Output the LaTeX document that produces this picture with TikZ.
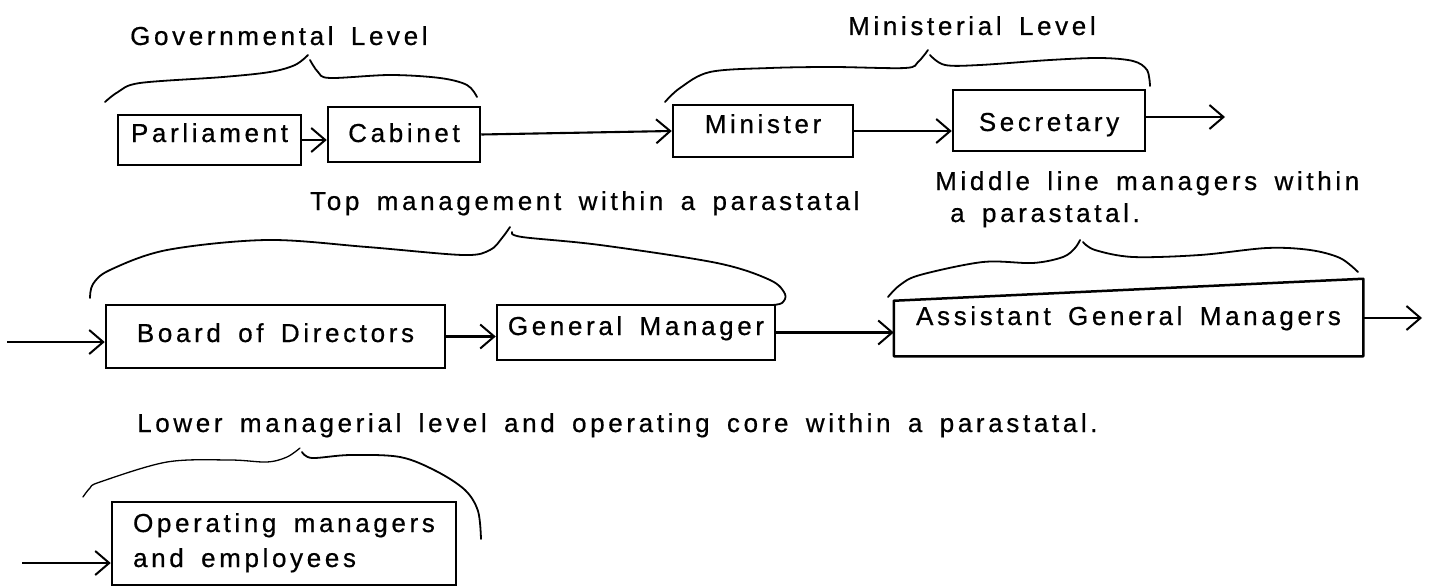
\documentclass[tikz,border=0pt]{standalone}
\usepackage{fontspec}
\setmainfont{Liberation Sans}[LetterSpace=14,WordSpace=1.6,FakeBold=0.6]
\usetikzlibrary{arrows.meta}
\newcommand\labfont{\fontsize{26}{32}\selectfont}
\begin{document}
\begin{tikzpicture}[x=1pt,y=-1pt,
  box/.style={draw, line width=2.5pt, inner sep=0pt, font=\labfont},
  lbl/.style={inner sep=0pt, anchor=base west, font=\labfont},
  conn/.style={line width=2.1pt, -{Straight Barb[length=14pt,width=24pt,line width=2pt]}},
  brace/.style={line width=1.8pt, line cap=round, line join=round}]
\useasboundingbox[fill=white] (0,0) rectangle (1433,586);

% labels
\node[lbl] (govl) at (130,45) {Governmental Level};
\node[lbl] (minl) at (848,35) {Ministerial Level};
\node[lbl] (topl) at (310,210) {Top management within a parastatal};
\node[lbl, align=left] (midl) at (935,222) {Middle line managers within\\\hspace*{15pt}a parastatal.};
\node[lbl] (lowl) at (137,432) {Lower managerial level and operating core within a parastatal.};

% boxes
\node[box, minimum width=183pt, text height=27pt, text depth=23pt] (parl) at (209.5,140) {Parliament};
\node[box, minimum width=152pt, text height=35pt, text depth=20pt] (cab) at (404,134.5) {Cabinet};
\node[box, minimum width=180pt, text height=28pt, text depth=24pt] (mini) at (763,131) {Minister};
\node[box, minimum width=192pt, text height=41pt, text depth=20pt] (sec) at (1049,120.5) {Secretary};
\node[box, minimum width=339pt, text height=37pt, text depth=26pt] (board) at (275.5,336.5) {Board of Directors};
\node[box, minimum width=278pt, text height=30pt, text depth=25pt] (gm) at (636,332.5) {General Manager};
\node[box, draw=none, minimum width=467pt, text height=34pt, text depth=30pt] (agm) at (1128.5,323) {Assistant General Managers};
\draw[line width=2.5pt, line join=round] (agm.south west) -- ([yshift=-11pt]agm.north west) -- ([yshift=11pt]agm.north east) -- (agm.south east) -- cycle;
\node[box, minimum width=344pt, align=left,
      font=\fontsize{26}{35}\selectfont] (oper) at (284,543.5)
  {\rule{0pt}{30pt}Operating managers\\and employees\rule[-18pt]{0pt}{18pt}};

% free ends
\coordinate (secout) at (1225,117);
\coordinate (bin) at (7,342);
\coordinate (agmout) at (1422,318);
\coordinate (oin) at (22,563);

% connectors
\draw[conn] (parl.east) -- (parl.east -| cab.west);
\draw[conn] (cab.east) -- (mini.west);
\draw[conn] (mini.east) -- (mini.east -| sec.west);
\draw[conn] (sec.east |- secout) -- (secout);
\draw[conn] (bin) -- (bin -| board.west);
\draw[conn] (board.east) -- (board.east -| gm.west);
\draw[conn] (gm.east) -- (gm.east -| agm.west);
\draw[conn] (agm.east |- agmout) -- (agmout);
\draw[conn] (oin) -- (oin -| oper.west);

% braces
\draw[brace] plot[smooth, tension=0.55] coordinates {(105,102) (118,92) (140,83) (223,77) (270,72) (295,65) (308,55)};
\draw[brace] plot[smooth, tension=0.55] coordinates {(310,60) (318,72) (330,78) (390,75) (440,78) (467,85) (477,97)};

\draw[brace] plot[smooth, tension=0.55] coordinates {(665,102) (680,88) (710,72) (770,68) (833,67) (905,68) (918,62) (928,50)};
\draw[brace] plot[smooth, tension=0.55] coordinates {(930,55) (945,65) (980,65) (1050,60) (1100,58) (1133,61) (1147,70) (1150,86)};

\draw[brace] plot[smooth, tension=0.55] coordinates {(90,298) (93,284) (110,270) (167,250) (267,240) (367,247) (463,255) (490,250) (502,238) (510,227)};
\draw[brace] plot[smooth, tension=0.55] coordinates {(512,232) (522,237) (600,245) (717,263) (770,280) (785,294) (782,303) (772,305)};

\draw[brace] plot[smooth, tension=0.55] coordinates {(888,297) (900,285) (920,275) (983,262) (1033,263) (1063,257) (1075,248) (1080,240)};
\draw[brace] plot[smooth, tension=0.55] coordinates {(1083,242) (1095,250) (1133,257) (1200,255) (1267,248) (1310,250) (1340,258) (1358,272)};

\draw[brace, line width=1.3pt] plot[smooth, tension=0.55] coordinates {(83,497) (90,488) (100,482) (167,462) (230,460) (267,462) (287,457) (300,448)};
\draw[brace] plot[smooth, tension=0.55] coordinates {(302,452) (312,458) (350,455) (400,457) (436,471) (465,490) (478,511) (481,539)};
\end{tikzpicture}
\end{document}
